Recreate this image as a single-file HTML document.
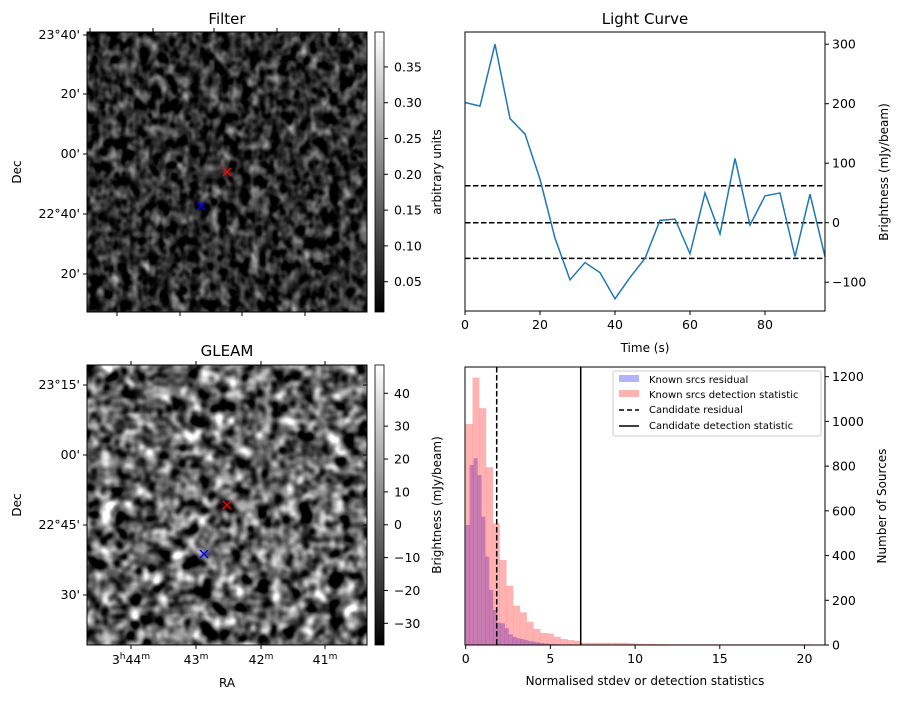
<!DOCTYPE html>
<html><head><meta charset="utf-8"><style>
body{margin:0;background:#fff;font-family:"Liberation Sans","DejaVu Sans",sans-serif}
svg text{font-family:"DejaVu Sans","Liberation Sans",sans-serif;font-size:12.5px;fill:#000}
</style></head><body>
<svg id="fig" width="902" height="699" viewBox="0 0 902 699" xmlns="http://www.w3.org/2000/svg">
<defs>
<filter id="nf" x="0" y="0" width="100%" height="100%" color-interpolation-filters="sRGB">
<feTurbulence type="fractalNoise" baseFrequency="0.1 0.08" numOctaves="2" seed="3"/>
<feColorMatrix type="matrix" values="0.33 0.33 0.33 0 0 0.33 0.33 0.33 0 0 0.33 0.33 0.33 0 0 0 0 0 0 1"/>
<feComponentTransfer><feFuncR type="linear" slope="2" intercept="-0.82"/><feFuncG type="linear" slope="2" intercept="-0.82"/><feFuncB type="linear" slope="2" intercept="-0.82"/></feComponentTransfer>
</filter>
<filter id="ng" x="0" y="0" width="100%" height="100%" color-interpolation-filters="sRGB">
<feTurbulence type="fractalNoise" baseFrequency="0.07" numOctaves="2" seed="11"/>
<feColorMatrix type="matrix" values="0.33 0.33 0.33 0 0 0.33 0.33 0.33 0 0 0.33 0.33 0.33 0 0 0 0 0 0 1"/>
<feComponentTransfer><feFuncR type="linear" slope="3.5" intercept="-1.35"/><feFuncG type="linear" slope="3.5" intercept="-1.35"/><feFuncB type="linear" slope="3.5" intercept="-1.35"/></feComponentTransfer>
</filter>
<linearGradient id="cb" x1="0" y1="1" x2="0" y2="0"><stop offset="0" stop-color="#000"/><stop offset="1" stop-color="#fff"/></linearGradient>
</defs>

<g>
<text x="227" y="24" text-anchor="middle" style="font-size:15px">Filter</text>
<rect x="87" y="32" width="280" height="280" filter="url(#nf)"/>
<rect x="87" y="32" width="280" height="280" fill="none" stroke="#000"/>
<path d="M227,172m-4,-4l8,8m0,-8l-8,8" stroke="red" stroke-width="1.5"/>
<path d="M201,206m-4,-4l8,8m0,-8l-8,8" stroke="blue" stroke-width="1.5"/>
<g stroke="#000">
<path d="M87,35h-4M87,94h-4M87,154h-4M87,214h-4M87,274h-4M90,32v-4M153,32v-4M214,32v-4M277,32v-4M339,32v-4M117,312v4M180,312v4M242,312v4M305,312v4"/>
</g>
<g text-anchor="end">
<text x="80" y="39">23°40'</text><text x="80" y="98">20'</text><text x="80" y="158">00'</text><text x="80" y="218">22°40'</text><text x="80" y="278">20'</text>
</g>
<text transform="translate(21,172) rotate(-90)" text-anchor="middle" style="font-size:12px">Dec</text>
<rect x="375" y="32" width="9" height="280" fill="url(#cb)" stroke="#000" stroke-width="0.8"/>
<g id="cb1"></g>
<text transform="translate(441,172) rotate(-90)" text-anchor="middle" style="font-size:12px">arbitrary units</text>
</g>

<g>
<text x="227" y="356" text-anchor="middle" style="font-size:15px">GLEAM</text>
<rect x="87" y="365" width="280" height="280" filter="url(#ng)"/>
<rect x="87" y="365" width="280" height="280" fill="none" stroke="#000"/>
<path d="M227,505m-4,-4l8,8m0,-8l-8,8" stroke="red" stroke-width="1.5"/>
<path d="M204,554m-4,-4l8,8m0,-8l-8,8" stroke="blue" stroke-width="1.5"/>
<g stroke="#000">
<path d="M87,385h-4M87,455h-4M87,525h-4M87,595h-4M131,645v4M196,645v4M261,645v4M325,645v4M131,365v-4M196,365v-4M261,365v-4M325,365v-4M367,385h-4M367,455h-4M367,525h-4M367,595h-4"/>
</g>
<g text-anchor="end">
<text x="80" y="389">23°15'</text><text x="80" y="459">00'</text><text x="80" y="529">22°45'</text><text x="80" y="599">30'</text>
</g>
<g text-anchor="middle">
<text x="131" y="664">3<tspan dy="-5" style="font-size:9px">h</tspan><tspan dy="5">44</tspan><tspan dy="-5" style="font-size:9px">m</tspan></text>
<text x="196" y="664">43<tspan dy="-5" style="font-size:9px">m</tspan></text>
<text x="261" y="664">42<tspan dy="-5" style="font-size:9px">m</tspan></text>
<text x="325" y="664">41<tspan dy="-5" style="font-size:9px">m</tspan></text>
</g>
<text x="227" y="687" text-anchor="middle" style="font-size:12px">RA</text>
<text transform="translate(21,505) rotate(-90)" text-anchor="middle" style="font-size:12px">Dec</text>
<rect x="375" y="365" width="9" height="280" fill="url(#cb)" stroke="#000" stroke-width="0.8"/>
<g id="cb2"></g>
<text transform="translate(441,505) rotate(-90)" text-anchor="middle" style="font-size:12px">Brightness (mJy/beam)</text>
</g>

<g>
<text x="645" y="24" text-anchor="middle" style="font-size:15px">Light Curve</text>
<g id="lc"></g>
<rect x="465" y="32" width="360" height="279" fill="none" stroke="#000"/>
<text x="645" y="352" text-anchor="middle" style="font-size:12px">Time (s)</text>
<text transform="translate(888,172) rotate(-90)" text-anchor="middle" style="font-size:12px">Brightness (mJy/beam)</text>
</g>

<g>
<g id="hi"></g>
<rect x="465" y="367" width="360" height="278" fill="none" stroke="#000"/>
<text x="645" y="685" text-anchor="middle" style="font-size:12px">Normalised stdev or detection statistics</text>
<text transform="translate(886,506) rotate(-90)" text-anchor="middle" style="font-size:12px">Number of Sources</text>
<g style="font-size:10px">
<rect x="613" y="371" width="208" height="65" fill="#fff" stroke="#ccc" rx="2"/>
<rect x="619" y="375" width="20" height="7" fill="#0000ff" fill-opacity="0.3"/><text x="649" y="383" style="font-size:10px">Known srcs residual</text>
<rect x="619" y="390" width="20" height="7" fill="#ff0000" fill-opacity="0.3"/><text x="649" y="398" style="font-size:10px">Known srcs detection statistic</text>
<path d="M619,410h20" stroke="#000" stroke-width="1.5" stroke-dasharray="5,3"/><text x="649" y="413" style="font-size:10px">Candidate residual</text>
<path d="M619,426h20" stroke="#000" stroke-width="1.5"/><text x="649" y="429" style="font-size:10px">Candidate detection statistic</text>
</g>
</g>
</svg>
<script>
const NS='http://www.w3.org/2000/svg';
const lcTimes=[0,4,8,12,16,20,24,28,32,36,40,44,48,52,56,60,64,68,72,76,80,84,88,92,96];
const lcValues=[202,196,300,175,149,73,-26,-96,-67,-84,-128,-92,-60,4,6,-52,50,-19,108,-4,45,50,-57,48,-57];
const lcThresholds=[62,0,-60];
const lcXTicks=[0,20,40,60,80];
const lcYTicks=[-100,0,100,200,300];
const redBinWidth=0.4;
const redCounts=[988,1196,1059,795,544,380,265,176,146,104,72,54,51,37,27,22,19,10,10,10,10,10,10,10,8,6,5,5,4,4,3,3,3,3,3,3,3,3,3,3,3,3,3,3,3,3,3,3,3,3,3];
const blueBinWidth=0.23;
const blueCounts=[537,805,835,760,574,395,246,157,100,97,75,48,37,30,27,22,18,15,12,9,7,5,4,3,2,2,1];
const candResidual=1.83;
const candStatistic=6.79;
const hXTicks=[0,5,10,15,20];
const hYTicks=[0,200,400,600,800,1000,1200];
const cb1Ticks=[0.05,0.10,0.15,0.20,0.25,0.30,0.35];
const cb2Ticks=[-30,-20,-10,0,10,20,30,40];

function mk(tag,attrs,parent){const e=document.createElementNS(NS,tag);for(const k in attrs)e.setAttribute(k,attrs[k]);parent.appendChild(e);return e;}
const lx=t=>465+t*(360/96), ly=v=>222.7-v*0.595;
const lc=document.getElementById('lc');
lcThresholds.forEach(v=>{const l=mk('line',{x1:465,x2:825,y1:ly(v),y2:ly(v),stroke:'#000','stroke-width':1.5,'stroke-dasharray':'5.5,2.5'},lc);

});
const p=mk('polyline',{points:lcTimes.map((t,i)=>lx(t)+','+ly(lcValues[i])).join(' '),fill:'none',stroke:'#1f77b4','stroke-width':1.5},lc);


lcXTicks.forEach(t=>{mk('line',{x1:lx(t),x2:lx(t),y1:311,y2:315,stroke:'#000'},lc);const tx=mk('text',{x:lx(t),y:329,'text-anchor':'middle'},lc);tx.textContent=t;

});
lcYTicks.forEach(v=>{mk('line',{x1:825,x2:829,y1:ly(v),y2:ly(v),stroke:'#000'},lc);const tx=mk('text',{x:832,y:ly(v)+4.5},lc);tx.textContent=v<0?'\u2212'+(-v):v;

});

const hx=v=>465.7+v*16.94, hy=c=>645-c*0.2236;
const hi=document.getElementById('hi');
blueCounts.forEach((c,i)=>{const r=mk('rect',{x:hx(i*blueBinWidth),y:hy(c),width:blueBinWidth*16.94+0.3,height:645-hy(c),fill:'#0000ff','fill-opacity':0.3},hi);

});
redCounts.forEach((c,i)=>{const r=mk('rect',{x:hx(i*redBinWidth),y:hy(c),width:redBinWidth*16.94+0.2,height:645-hy(c),fill:'#ff0000','fill-opacity':0.3},hi);

});
const d1=mk('line',{x1:hx(candResidual),x2:hx(candResidual),y1:367,y2:645,stroke:'#000','stroke-width':1.5,'stroke-dasharray':'5.5,2.5'},hi);


const d2=mk('line',{x1:hx(candStatistic),x2:hx(candStatistic),y1:367,y2:645,stroke:'#000','stroke-width':1.5},hi);


hXTicks.forEach(t=>{mk('line',{x1:hx(t),x2:hx(t),y1:645,y2:649,stroke:'#000'},hi);const tx=mk('text',{x:hx(t),y:663,'text-anchor':'middle'},hi);tx.textContent=t;

});
hYTicks.forEach(v=>{mk('line',{x1:825,x2:829,y1:hy(v),y2:hy(v),stroke:'#000'},hi);const tx=mk('text',{x:832,y:hy(v)+4.5},hi);tx.textContent=v;

});

const cb1=document.getElementById('cb1');
cb1Ticks.forEach(v=>{const y=281.7-(v-0.05)/0.05*35.8;mk('line',{x1:384,x2:388,y1:y,y2:y,stroke:'#000'},cb1);const tx=mk('text',{x:394,y:y+4.5},cb1);tx.textContent=v.toFixed(2);

});
const cb2=document.getElementById('cb2');
cb2Ticks.forEach(v=>{const y=393.3+(40-v)/10*32.86;mk('line',{x1:384,x2:388,y1:y,y2:y,stroke:'#000'},cb2);const tx=mk('text',{x:394,y:y+4.5},cb2);tx.textContent=v<0?'\u2212'+(-v):v;

});
</script>
</body></html>
